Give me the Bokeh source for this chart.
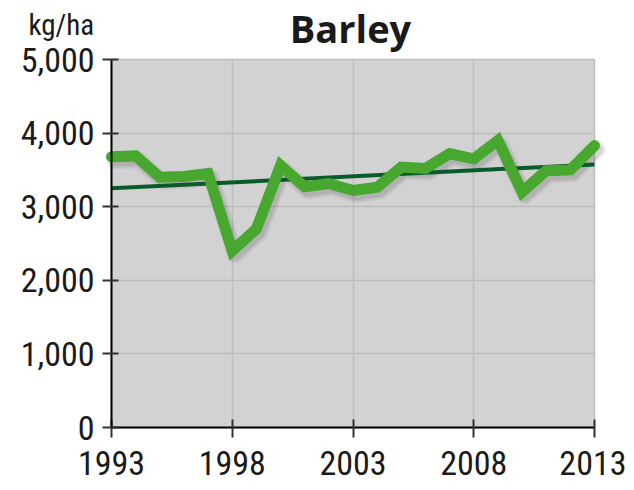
from bokeh.plotting import figure
from bokeh.models import (Range1d, FixedTicker, NumeralTickFormatter, Label, BoxAnnotation)
from bokeh.embed import file_html
from bokeh.resources import INLINE

years = list(range(1993, 2014))
yield_kg_ha = [3680, 3690, 3400, 3410, 3450, 2400, 2700, 3560, 3270, 3315,
               3220, 3265, 3537, 3520, 3720, 3650, 3900, 3200, 3490, 3500, 3830]
trend_years = [1993, 2013]
trend_values = [3250, 3575]
x_ticks = [1993, 1998, 2003, 2008, 2013]
y_ticks = [0, 1000, 2000, 3000, 4000, 5000]
title_text = "Barley"
unit_text = "kg/ha"

# canvas and plot-area geometry (pixels)
W, H = 626, 482
left_px, right_px, top_px, bottom_px = 111, 594, 59, 427

x_lo, x_hi = x_ticks[0], x_ticks[-1]
y_lo, y_hi = y_ticks[0], y_ticks[-1]
kx = (right_px - left_px) / (x_hi - x_lo)      # px per year
ky = (bottom_px - top_px) / (y_hi - y_lo)      # px per kg/ha
x0 = x_lo - left_px / kx
x1 = x_hi + (W - right_px) / kx
y0 = y_lo - (H - bottom_px) / ky
y1 = y_hi + top_px / ky

p = figure(width=W, height=H, output_backend="svg", toolbar_location=None,
           x_range=Range1d(x0, x1), y_range=Range1d(y0, y1),
           min_border=0)
p.min_border_left = p.min_border_right = p.min_border_top = p.min_border_bottom = 0
p.outline_line_color = None
p.background_fill_color = "white"
p.border_fill_color = "white"

p.add_layout(BoxAnnotation(left=x_lo, right=x_hi, bottom=y_lo, top=y_hi,
                           fill_color="#d2d2d2", fill_alpha=1.0,
                           line_color=None, level="image"))

# shadow ranges (shifted a few pixels right/down)
sx_, sy_ = 3 / kx, 4 / ky
p.extra_x_ranges = {"sh": Range1d(x0 - sx_, x1 - sx_)}
p.extra_y_ranges = {"sh": Range1d(y0 + sy_, y1 + sy_)}

for w, a in [(17, 0.06), (14, 0.08), (11, 0.10)]:
    p.line(years, yield_kg_ha, x_range_name="sh", y_range_name="sh",
           line_color="#404040", line_alpha=a, line_width=w,
           line_join="round", line_cap="round")

p.line(trend_years, trend_values, line_color="#0b5a2a", line_width=4)
p.line(years, yield_kg_ha, line_color="#47a72f", line_width=11,
       line_join="miter", line_cap="round")

font = "'Liberation Sans Narrow', 'Arial Narrow', 'Roboto Condensed', 'DejaVu Sans Condensed', Roboto"
for ax in (p.xaxis[0], p.yaxis[0]):
    ax.axis_line_color = "black"
    ax.axis_line_width = 2
    ax.major_tick_line_color = "#333333"
    ax.major_tick_line_width = 2
    ax.minor_tick_line_color = None
    ax.major_label_text_font = font
    ax.major_label_text_font_size = "34px"
    ax.major_label_text_color = "#1a1a1a"

p.xaxis.fixed_location = y_lo
p.yaxis.fixed_location = x_lo
p.xaxis.bounds = (x_lo, x_hi)
p.yaxis.bounds = (y_lo, y_hi)
p.xaxis.ticker = FixedTicker(ticks=x_ticks)
p.yaxis.ticker = FixedTicker(ticks=y_ticks)
p.yaxis.formatter = NumeralTickFormatter(format="0,0")
p.xaxis.major_tick_in = 8
p.xaxis.major_tick_out = 10
p.yaxis.major_tick_in = 7
p.yaxis.major_tick_out = 9
p.yaxis.major_label_standoff = 8
p.xaxis.major_label_standoff = 13

p.xgrid.ticker = FixedTicker(ticks=x_ticks)
p.ygrid.ticker = FixedTicker(ticks=y_ticks)
p.xgrid.bounds = (x_lo, x_hi)
p.ygrid.bounds = (y_lo, y_hi)
p.xgrid.cross_bounds = (y_lo, y_hi)
p.ygrid.cross_bounds = (x_lo, x_hi)
p.grid.grid_line_color = "#bdbdbd"
p.grid.grid_line_width = 1.5

# texts above the plot area (screen units measured up from the bottom)
p.add_layout(Label(x=350, y=H - 27, x_units="screen", y_units="screen",
                   text=title_text, text_font="Open Sans", text_font_style="bold",
                   text_font_size="38px", text_align="center",
                   text_baseline="alphabetic", text_color="#1a1a1a"))
p.add_layout(Label(x=28, y=H - 24, x_units="screen", y_units="screen",
                   text=unit_text, text_font=font, text_font_size="29px",
                   text_align="left", text_baseline="alphabetic",
                   text_color="#1a1a1a"))

open("out.html", "w").write(file_html(p, INLINE))
